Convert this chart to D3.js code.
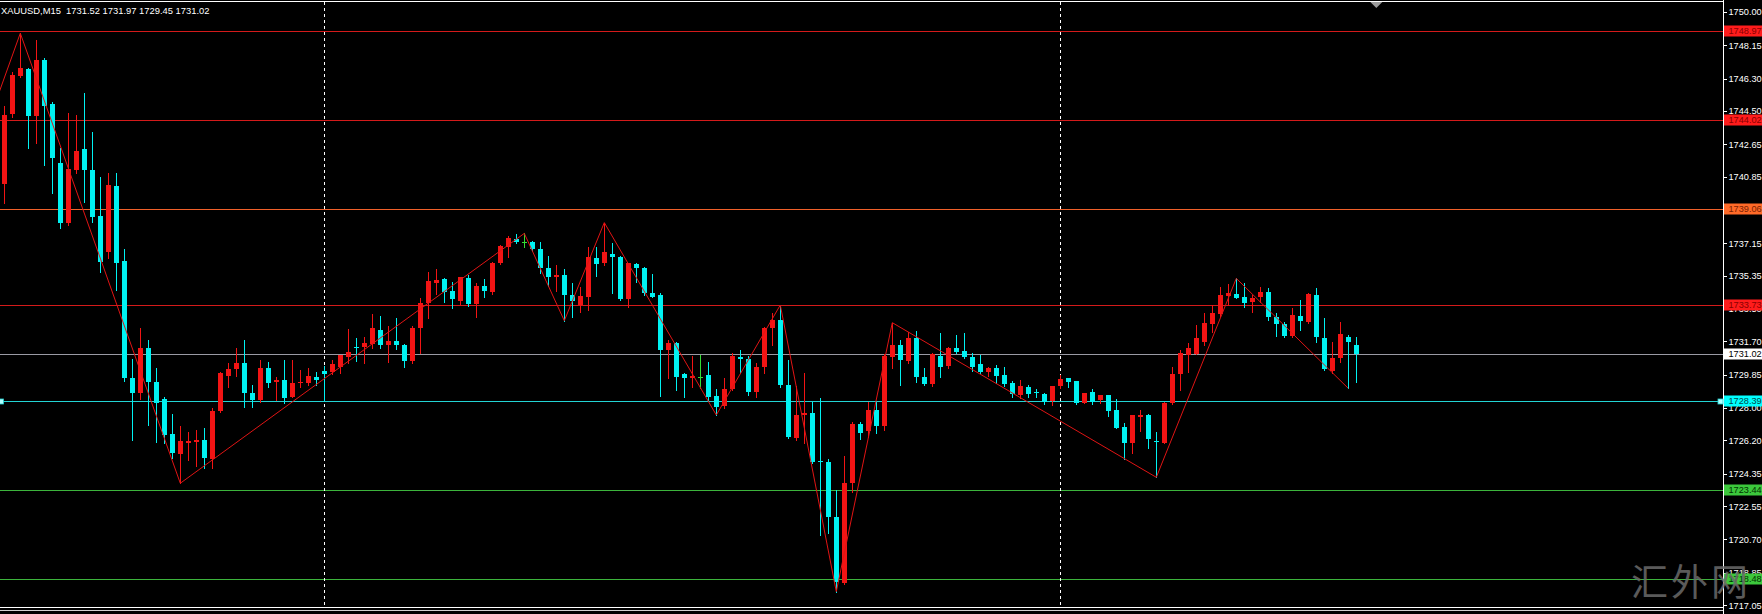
<!DOCTYPE html>
<html><head><meta charset="utf-8">
<script src="https://cdn.jsdelivr.net/npm/d3@7"></script>
<style>
html,body{margin:0;padding:0;background:#000;overflow:hidden;}
svg{display:block;}
</style></head><body>
<svg id="c" width="1762" height="614"></svg>
<script>
const symbol = "XAUUSD,M15";
const opens = [1740.44,1744.33,1746.44,1746.83,1744.22,1747.33,1744.89,1741.59,1738.26,1741.22,1742.39,1741.22,1738.67,1736.68,1740.35,1736.19,1729.65,1728.85,1731.32,1729.43,
1728.48,1726.56,1725.44,1726.07,1726.11,1726.22,1725.15,1727.83,1729.78,1730.15,1730.48,1728.85,1728.44,1730.24,1729.46,1729.56,1728.63,1729.37,1729.41,1729.74,
1730.06,1730.00,1730.26,1730.82,1731.41,1731.37,1731.56,1732.33,1731.50,1731.70,1731.50,1730.63,1732.46,1733.82,1734.96,1735.15,1734.52,1733.96,1735.22,1733.78,
1734.78,1734.46,1736.04,1736.96,1737.39,1737.24,1737.24,1736.82,1735.76,1735.30,1735.39,1734.28,1733.72,1734.19,1736.35,1736.07,1736.54,1736.41,1734.04,1735.98,
1735.76,1734.41,1734.28,1731.22,1731.59,1729.89,1729.65,1729.74,1729.83,1728.67,1728.11,1729.04,1730.82,1730.70,1728.91,1730.30,1732.43,1732.89,1729.28,1726.32,
1727.60,1727.70,1725.07,1724.98,1721.96,1718.26,1723.85,1727.10,1726.70,1727.90,1727.00,1730.85,1731.50,1730.63,1731.91,1729.70,1729.33,1730.89,1730.33,1731.31,
1731.17,1730.81,1730.43,1730.02,1730.24,1729.83,1729.37,1728.72,1729.15,1728.87,1728.78,1728.39,1729.22,1729.65,1729.50,1728.26,1728.91,1728.44,1728.72,1727.89,
1726.96,1726.07,1727.52,1727.61,1726.19,1726.07,1728.26,1729.87,1730.94,1730.98,1731.69,1732.67,1733.22,1734.22,1734.33,1734.15,1733.91,1734.15,1734.46,1733.07,
1732.67,1732.00,1733.11,1732.80,1734.28,1731.87,1730.07,1730.76,1731.93,1731.52];
const highs = [1744.78,1746.69,1748.82,1746.87,1748.45,1747.43,1745.02,1742.43,1744.37,1744.28,1745.52,1743.35,1740.85,1741.04,1741.04,1736.81,1730.70,1732.43,1731.78,1730.20,
1728.63,1727.67,1727.00,1726.69,1726.78,1726.87,1727.98,1730.02,1730.48,1731.32,1731.78,1729.28,1730.67,1730.57,1729.74,1730.67,1730.67,1730.10,1730.20,1730.02,
1730.35,1730.67,1730.95,1732.37,1731.87,1731.96,1733.22,1733.11,1732.56,1732.98,1731.56,1732.56,1734.09,1735.57,1735.70,1735.20,1735.02,1735.30,1735.39,1734.93,
1735.15,1736.13,1737.06,1737.56,1737.67,1737.70,1737.30,1737.24,1736.45,1735.95,1735.70,1734.93,1734.74,1736.96,1736.96,1738.30,1737.19,1736.45,1736.04,1736.04,
1735.85,1735.44,1734.41,1731.78,1731.69,1729.93,1730.90,1730.95,1730.57,1729.04,1729.65,1731.04,1731.22,1730.89,1730.52,1732.52,1733.30,1733.72,1730.67,1729.20,
1729.93,1728.35,1728.54,1725.17,1723.44,1725.33,1727.24,1727.20,1728.35,1728.40,1731.00,1732.74,1731.78,1732.24,1732.28,1730.20,1731.04,1732.15,1731.41,1732.06,
1732.15,1731.04,1730.94,1730.30,1730.39,1730.30,1729.50,1729.56,1729.28,1729.04,1728.85,1729.22,1729.83,1729.65,1729.50,1728.82,1729.04,1728.72,1728.72,1728.48,
1727.15,1727.61,1727.89,1727.67,1726.69,1728.35,1730.30,1731.22,1731.59,1732.61,1733.26,1733.72,1734.74,1734.89,1735.20,1734.93,1734.28,1734.70,1734.65,1733.26,
1732.80,1733.54,1734.00,1734.37,1734.65,1732.98,1731.69,1732.80,1732.06,1731.97];
const lows = [1739.41,1744.15,1746.37,1742.46,1742.70,1741.50,1739.93,1737.98,1738.15,1741.04,1739.46,1738.35,1735.57,1736.31,1734.56,1729.50,1726.22,1728.48,1727.06,1726.10,
1726.04,1725.20,1723.82,1725.11,1724.78,1724.65,1724.65,1727.80,1729.19,1729.78,1728.07,1728.07,1728.35,1729.19,1728.44,1728.30,1728.63,1729.19,1729.30,1729.28,
1728.44,1729.90,1729.93,1730.52,1730.63,1730.52,1731.32,1731.32,1730.57,1731.30,1730.26,1730.50,1731.07,1732.98,1734.33,1733.91,1733.54,1733.78,1733.67,1733.04,
1734.15,1734.33,1736.00,1736.37,1737.15,1736.93,1736.70,1735.52,1734.78,1734.52,1732.85,1733.04,1733.35,1733.44,1735.33,1735.95,1734.41,1734.00,1733.63,1735.02,
1734.28,1734.15,1728.67,1729.65,1729.00,1728.60,1729.19,1729.09,1728.44,1727.61,1727.98,1729.00,1729.93,1728.72,1728.60,1729.93,1731.50,1729.19,1726.32,1726.22,
1726.04,1724.93,1720.95,1721.04,1717.80,1718.22,1723.35,1726.30,1726.40,1726.60,1726.80,1730.20,1729.28,1730.48,1729.46,1729.28,1729.22,1729.74,1730.20,1731.04,
1730.76,1730.07,1729.93,1729.78,1729.41,1729.22,1728.63,1728.54,1728.60,1728.60,1728.20,1728.17,1729.09,1729.19,1728.20,1728.26,1728.22,1728.26,1727.56,1726.91,
1725.15,1725.48,1726.74,1725.80,1724.15,1726.04,1728.22,1729.00,1730.02,1730.98,1731.50,1732.24,1733.11,1733.72,1734.09,1733.63,1733.35,1733.91,1732.89,1732.00,
1731.93,1731.96,1732.33,1732.74,1731.69,1730.11,1729.93,1730.57,1729.09,1729.45];
const closes = [1744.28,1746.50,1746.87,1744.22,1747.33,1744.78,1741.87,1738.30,1741.26,1742.28,1741.22,1738.63,1736.13,1740.39,1736.07,1729.65,1728.85,1731.32,1729.46,1728.26,
1726.50,1725.52,1726.17,1726.17,1726.20,1725.20,1727.83,1729.93,1730.15,1730.48,1728.85,1728.44,1730.20,1729.41,1729.56,1728.54,1729.37,1729.46,1729.78,1729.56,
1729.89,1730.45,1730.95,1731.09,1731.32,1731.59,1732.43,1731.50,1731.70,1731.50,1730.63,1732.46,1733.82,1735.06,1735.11,1734.46,1734.04,1735.26,1733.78,1734.80,
1734.50,1736.04,1737.00,1737.43,1737.24,1737.24,1736.82,1735.76,1735.30,1735.39,1734.28,1733.96,1734.22,1736.41,1736.00,1736.69,1736.41,1734.04,1736.04,1735.76,
1734.41,1734.19,1731.22,1731.59,1729.74,1729.65,1729.78,1729.74,1728.63,1728.04,1729.04,1730.89,1730.70,1728.91,1730.30,1732.46,1732.89,1729.28,1726.41,1727.61,
1727.70,1725.02,1725.00,1721.96,1718.35,1723.85,1727.11,1726.60,1727.90,1727.00,1730.89,1731.50,1730.67,1731.87,1729.70,1729.33,1731.00,1730.30,1731.31,1731.13,
1730.81,1730.30,1730.02,1730.20,1729.78,1729.33,1728.78,1729.22,1728.78,1728.82,1728.35,1729.22,1729.59,1729.46,1728.26,1728.82,1728.35,1728.72,1727.85,1726.91,
1726.07,1727.61,1727.61,1726.28,1726.13,1728.26,1729.87,1731.04,1731.31,1731.87,1732.74,1733.30,1734.28,1734.41,1734.09,1733.85,1734.09,1734.46,1733.07,1732.67,
1732.00,1733.17,1732.85,1734.33,1731.93,1730.15,1730.80,1732.11,1731.69,1731.02];
const yTicks = [1750.00,1748.15,1746.30,1744.50,1742.65,1740.85,1739.00,1737.15,1735.35,1733.50,1731.70,1729.85,1728.00,1726.20,1724.35,1722.55,1720.70,1718.85,1717.05];
const levels = [1748.97,1744.02,1739.06,1733.73,1731.02,1728.39,1723.44,1718.48];
const zigzagIdx = [-2,2,22,65,70,75,89,97,104,111,144,154,168];
const zigzagVal = [1743.86,1748.82,1723.82,1737.70,1732.85,1738.30,1727.61,1733.72,1717.80,1732.74,1724.15,1735.20,1729.09];
const separators = [40,132];
const watermark = "汇外网";

// ---- styles (kept separate from data) ----
const W = 1762, H = 614, axisX = 1723;
const levelStyle = [
  {line:"#d41a1a", bg:"#ff1c1c", fg:"#8a0000"},
  {line:"#d41a1a", bg:"#ff1c1c", fg:"#8a0000"},
  {line:"#f0602a", bg:"#ff6a28", fg:"#7a2000"},
  {line:"#d41a1a", bg:"#ff1c1c", fg:"#8a0000"},
  {line:"#9a9aa4", bg:"#ffffff", fg:"#000000"},
  {line:"#22d4d4", bg:"#00ffff", fg:"#004a4a"},
  {line:"#3cb43c", bg:"#3cc83c", fg:"#003300"},
  {line:"#3cb43c", bg:"#3cc83c", fg:"#003300"}
];
const UP = "#f21414", DOWN = "#00f2f2", DOJI = "#33dd33";
const FONT = "'Liberation Sans', Arial, sans-serif";
const FS = "9.2px";

const svg = d3.select("#c");
svg.append("rect").attr("width", W).attr("height", H).attr("fill", "#000");

const y = d3.scaleLinear().domain([1717.05, 1750]).range([605.1, 12]);
const x = d3.scaleLinear().domain([0, 169]).range([4.3, 1356.3]);

svg.append("defs").append("clipPath").attr("id","plot")
  .append("rect").attr("x",0).attr("y",2).attr("width",axisX).attr("height",605);

const plot = svg.append("g").attr("clip-path","url(#plot)").attr("shape-rendering","crispEdges");

// horizontal level lines
plot.selectAll("line.lvl").data(levels).join("line").attr("class","lvl")
  .attr("x1",0).attr("x2",axisX)
  .attr("y1",d=>Math.round(y(d))+0.5).attr("y2",d=>Math.round(y(d))+0.5)
  .attr("stroke",(d,i)=>levelStyle[i].line).attr("stroke-width",1);

// period separators
plot.selectAll("line.sep").data(separators).join("line").attr("class","sep")
  .attr("x1",d=>Math.round(x(d))+0.5).attr("x2",d=>Math.round(x(d))+0.5)
  .attr("y1",2).attr("y2",607)
  .attr("stroke","#ffffff").attr("stroke-dasharray","3,3");

// candles
const candles = d3.range(opens.length).map(i=>({i,o:opens[i],h:highs[i],l:lows[i],c:closes[i]}));
const col = d => d.c > d.o ? UP : (d.c < d.o ? DOWN : DOJI);
const cg = plot.append("g");
cg.selectAll("line.wick").data(candles).join("line").attr("class","wick")
  .attr("x1",d=>Math.round(x(d.i))+0.5).attr("x2",d=>Math.round(x(d.i))+0.5)
  .attr("y1",d=>Math.round(y(d.h))).attr("y2",d=>Math.round(y(d.l))+1)
  .attr("stroke",col);
cg.selectAll("rect.body").data(candles).join("rect").attr("class","body")
  .attr("x",d=>Math.round(x(d.i))-2).attr("width",5)
  .attr("y",d=>Math.round(y(Math.max(d.o,d.c))))
  .attr("height",d=>Math.max(1, Math.round(y(Math.min(d.o,d.c))) - Math.round(y(Math.max(d.o,d.c)))))
  .attr("fill",col);

// zigzag
const zz = zigzagIdx.map((d,k)=>[d, zigzagVal[k]]);
svg.append("g").attr("clip-path","url(#plot)").append("path")
  .attr("d", d3.line().x(d=>x(d[0])).y(d=>y(d[1]))(zz))
  .attr("fill","none").attr("stroke","#e01414").attr("stroke-width",1);

// frame lines
const frame = svg.append("g").attr("shape-rendering","crispEdges");
frame.append("line").attr("x1",0).attr("x2",axisX).attr("y1",1.5).attr("y2",1.5).attr("stroke","#ffffff");
frame.append("line").attr("x1",0).attr("x2",axisX).attr("y1",607.5).attr("y2",607.5).attr("stroke","#ffffff");
frame.append("line").attr("x1",0).attr("x2",axisX).attr("y1",610.5).attr("y2",610.5).attr("stroke","#d0d0d0");
frame.append("line").attr("x1",axisX+0.5).attr("x2",axisX+0.5).attr("y1",0).attr("y2",H).attr("stroke","#ffffff");

// price axis
const axis = d3.axisRight(y).tickValues(yTicks).tickSize(4).tickPadding(1.5).tickFormat(d3.format(".2f"));
const ag = svg.append("g").attr("transform",`translate(${axisX},0)`).call(axis);
ag.select(".domain").remove();
ag.selectAll(".tick line").attr("stroke","#ffffff").attr("shape-rendering","crispEdges");
ag.selectAll(".tick text").attr("fill","#ffffff").attr("font-family",FONT).attr("font-size",FS);

// level labels
const lg = svg.append("g").selectAll("g").data(levels).join("g")
  .attr("transform",d=>`translate(${axisX+1},${Math.round(y(d))})`);
lg.append("rect").attr("x",0).attr("y",-5.5).attr("width",W-axisX).attr("height",11)
  .attr("fill",(d,i)=>levelStyle[i].bg);
lg.append("text").attr("x",4.5).attr("y",0).attr("dy","0.36em")
  .attr("font-family",FONT).attr("font-size",FS)
  .attr("fill",(d,i)=>levelStyle[i].fg).text(d=>d3.format(".2f")(d));

// markers on the cyan level
const cyanLevel = levels[5];
svg.selectAll("rect.mk").data([-1.5, axisX-5]).join("rect").attr("class","mk")
  .attr("x",d=>d).attr("y",Math.round(y(cyanLevel))-2).attr("width",5).attr("height",5)
  .attr("fill","#b0ffff").attr("stroke","#20d0d0").attr("stroke-width",0.8);

// chart shift triangle
const tx = x(171.5);
svg.append("path").attr("d",`M${tx-6},2 L${tx+6},2 L${tx},8 Z`).attr("fill","#9a9a9a");

// title
const last = candles[candles.length-1];
const f2 = d3.format(".2f");
svg.append("text").attr("x",1).attr("y",14).attr("font-family",FONT).attr("font-size","9.4px")
  .attr("fill","#ffffff").attr("xml:space","preserve")
  .text(`${symbol}  ${f2(last.o)} ${f2(last.h)} ${f2(last.l)} ${f2(last.c)}`);

// watermark
svg.append("text").attr("x",1631).attr("y",596)
  .attr("font-family","'Noto Sans CJK SC', sans-serif").attr("font-size","37px")
  .attr("letter-spacing","3px").attr("fill","#6a6a6a").attr("opacity",0.85)
  .text(watermark);
</script>
</body></html>
